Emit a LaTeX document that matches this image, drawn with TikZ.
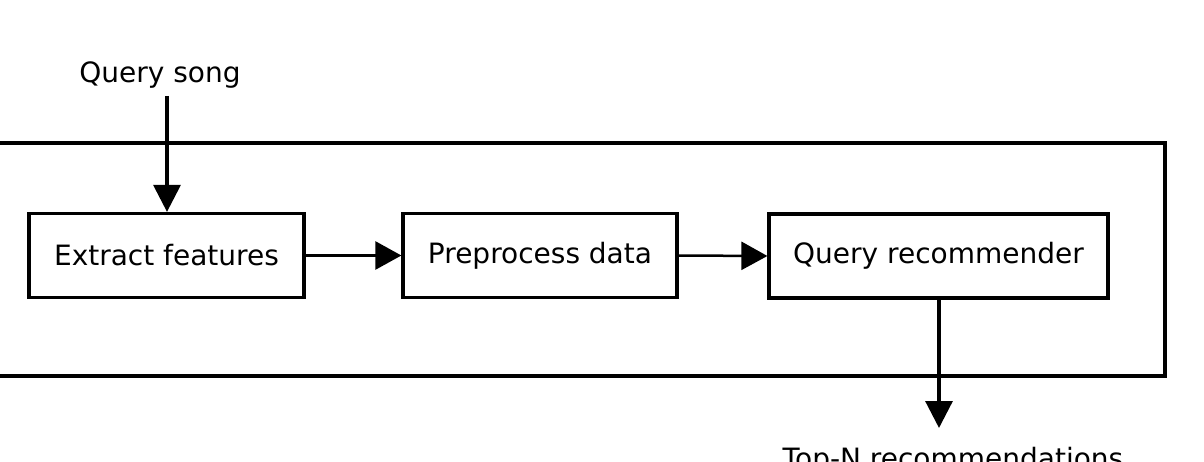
\documentclass[tikz,border=0pt]{standalone}
\usepackage{fontspec}
\setmainfont{DejaVu Sans}
\usetikzlibrary{arrows.meta}
\begin{document}
\begin{tikzpicture}[x=1pt,y=-1pt,
  proc/.style={draw,line width=3.2pt,minimum height=84pt,inner sep=0pt,font=\fontsize{28}{32}\selectfont},
  lbl/.style={font=\fontsize{28}{32}\selectfont,inner sep=0pt},
  flow/.style={line width=3.2pt,-{Triangle[length=27pt,width=27pt]}},
  hflow/.style={line width=2.5pt,-{Triangle[length=26pt,width=28pt]}}]
\useasboundingbox (0,0) rectangle (1204,462);
\draw[line width=3.2pt] (-10,143) rectangle (1165,376);
\node[proc,minimum width=275pt] (ex) at (166.5,255.5) {Extract features};
\node[proc,minimum width=274pt] (pre) at (540,255.5) {Preprocess data};
\node[proc,minimum width=339pt] (qr) at (938.5,256) {Query recommender};
\node[lbl] (qs) at (160,75) {Query song};
\coordinate (qsend) at (167,96);
\node[lbl,anchor=base] (top) at (953,468) {Top-N recommendations};
\coordinate (topend) at (939,428);
\draw[flow] (qsend) -- (ex.north -| qsend);
\draw[hflow] (ex.east) -- (pre.west);
\draw[hflow] (pre.east) -- (qr.west);
\draw[flow] (qr.south -| topend) -- (topend);
\end{tikzpicture}
\end{document}
